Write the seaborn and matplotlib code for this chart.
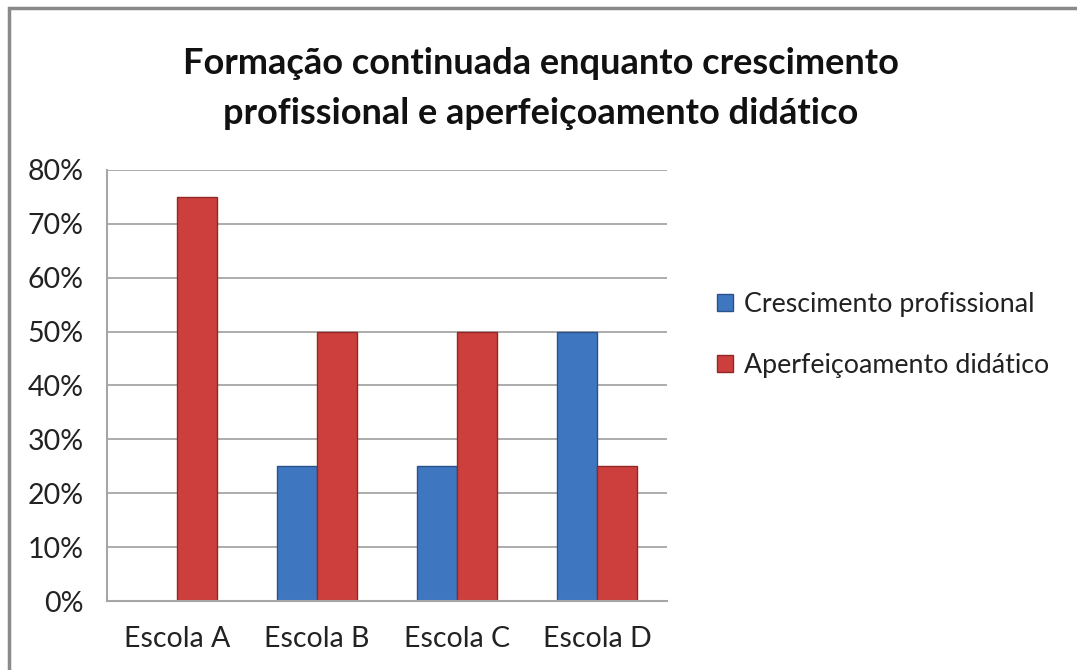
import matplotlib
matplotlib.use("Agg")
import matplotlib.pyplot as plt
import seaborn as sns
import pandas as pd
from matplotlib.patches import Rectangle
from matplotlib.ticker import FuncFormatter

schools = ["Escola A", "Escola B", "Escola C", "Escola D"]
series_names = ["Crescimento profissional", "Aperfeiçoamento didático"]
crescimento = [0, 25, 25, 50]
aperfeicoamento = [75, 50, 50, 25]
yticks = [0, 10, 20, 30, 40, 50, 60, 70, 80]
title = "Formação continuada enquanto crescimento\nprofissional e aperfeiçoamento didático"

df = pd.DataFrame({
    "Escola": schools * 2,
    "Série": [series_names[0]] * 4 + [series_names[1]] * 4,
    "Valor": crescimento + aperfeicoamento,
})

sns.set_theme(style="white")
plt.rcParams['font.family'] = ['Lato', 'DejaVu Sans']

fig = plt.figure(figsize=(10.77, 6.70), dpi=100)
ax = fig.add_axes([107/1077, 69/670, 560/1077, 431/670])

palette = {series_names[0]: "#3f76c0", series_names[1]: "#cc3f3c"}
sns.barplot(data=df, x="Escola", y="Valor", hue="Série", palette=palette,
            width=0.57, ax=ax, edgecolor="none", saturation=1, legend=True)

edge = {series_names[0]: "#2a5189", series_names[1]: "#8f2826"}
for cont, name in zip(ax.containers, series_names):
    for bar in cont:
        bar.set_edgecolor(edge[name])
        bar.set_linewidth(1.0)

ax.set_ylim(0, 80)
ax.set_xlim(-0.5, 3.5)
ax.set_yticks(yticks)
ax.yaxis.set_major_formatter(FuncFormatter(lambda v, p: f"{int(v)}%"))
ax.grid(axis="y", color="#a6a6a6", linewidth=1.3)
ax.set_axisbelow(True)
ax.set_xlabel("")
ax.set_ylabel("")
for s in ["top", "right"]:
    ax.spines[s].set_visible(False)
ax.spines["left"].set_color("#a6a6a6")
ax.spines["left"].set_linewidth(1.5)
ax.spines["bottom"].set_color("#a6a6a6")
ax.spines["bottom"].set_linewidth(1.5)
ax.tick_params(axis="y", labelsize=20.5, colors="#222222", pad=17, length=0)
ax.tick_params(axis="x", labelsize=20.5, colors="#222222", pad=18, length=0)

leg = ax.legend(loc="center left", bbox_to_anchor=(1.089, 0.618), frameon=False,
                fontsize=19.3, handlelength=0.6, handleheight=0.6,
                handletextpad=0.4, labelspacing=1.34, borderpad=0, borderaxespad=0)
for t in leg.get_texts():
    t.set_color("#222222")
for h, name in zip(leg.legend_handles, series_names):
    h.set_edgecolor(edge[name])
    h.set_linewidth(1.0)

fig.text(0.502, 0.868, title, ha="center", va="center", fontsize=26,
         fontweight="bold", color="#111111", linespacing=1.62)

fig.patches.append(Rectangle((9/1077, -0.1), 1.2, (670-8)/670 + 0.1,
                             transform=fig.transFigure, fill=False,
                             edgecolor="#8a8a8a", linewidth=2.5))

fig.savefig("out.png", dpi=100)
